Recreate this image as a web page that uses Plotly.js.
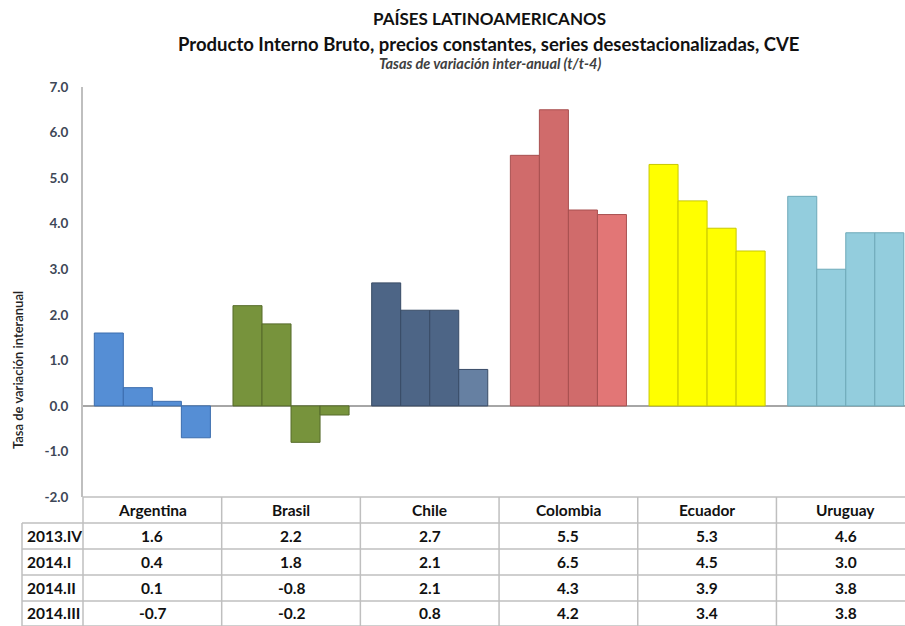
<!DOCTYPE html>
<html>
<head>
<meta charset="utf-8">
<script src="https://cdn.plot.ly/plotly-3.0.1.min.js"></script>
<style>html,body{margin:0;padding:0;background:#fff;}#chart{width:905px;height:626px;}</style>
</head>
<body>
<div id="chart"></div>
<script>
// ---- data ----
const countries = ['Argentina', 'Brasil', 'Chile', 'Colombia', 'Ecuador', 'Uruguay'];
const periods = ['2013.IV', '2014.I', '2014.II', '2014.III'];
const v2013IV  = [1.6, 2.2, 2.7, 5.5, 5.3, 4.6];
const v2014I   = [0.4, 1.8, 2.1, 6.5, 4.5, 3.0];
const v2014II  = [0.1, -0.8, 2.1, 4.3, 3.9, 3.8];
const v2014III = [-0.7, -0.2, 0.8, 4.2, 3.4, 3.8];
const yTicks = [-2, -1, 0, 1, 2, 3, 4, 5, 6, 7];

const titleMain = 'PAÍSES LATINOAMERICANOS';
const titleSub = 'Producto Interno Bruto, precios constantes, series desestacionalizadas, CVE';
const titleNote = 'Tasas de variación inter-anual (t/t-4)';
const yTitle = 'Tasa de variación interanual';

// ---- styles ----
const series = [v2013IV, v2014I, v2014II, v2014III];
const fillBase = ['#558ED5', '#77933C', '#4D6586', '#D06B6B', '#FFFF00', '#93CDDD'];
const fillLast = ['#558ED5', '#77933C', '#6680A2', '#E27676', '#FFFF00', '#93CDDD'];
const lineCol = ['#3B6DAE', '#566B2A', '#384B66', '#A85050', '#C8C800', '#6EA9B9'];
const FONT = 'Lato, "Open Sans", sans-serif';

const W = 905, H = 626;
const M = {l: 83, r: 0, t: 87, b: 129};
const plotH = H - M.t - M.b;
const plotW = W - M.l - M.r;
const py = px => (H - M.b - px) / plotH;   // pixel row -> paper y
const pxX = px => (px - M.l) / plotW;      // pixel col -> paper x

const traces = series.map((vals, i) => ({
  type: 'bar',
  name: periods[i],
  x: countries,
  y: vals,
  marker: {
    color: i === 3 ? fillLast : fillBase,
    line: {color: lineCol, width: 1}
  },
  hoverinfo: 'x+y+name',
  showlegend: false
}));

// table geometry (pixels)
const rowLines = [497, 523, 549, 575, 601, 626];
const rowCenters = [536, 562, 588, 613];
const headerCenter = 510;
const gridCol = '#BFBFBF';
const TS = 15.5;

const shapes = [];
rowLines.forEach((yy, k) => {
  shapes.push({type: 'line', xref: 'paper', yref: 'paper',
    x0: k === 0 ? 0 : pxX(22), x1: 1.02, y0: py(yy), y1: py(yy),
    line: {color: gridCol, width: 1.5}, layer: 'above'});
});
for (let j = 0; j <= countries.length; j++) {
  const xr = j === 0 ? {xref: 'paper', x: 0} : {xref: 'x', x: j - 0.5};
  shapes.push({type: 'line', xref: xr.xref, yref: 'paper',
    x0: xr.x, x1: xr.x, y0: py(497), y1: py(630),
    line: {color: gridCol, width: 1.5}});
}
shapes.push({type: 'line', xref: 'paper', yref: 'paper',
  x0: pxX(22), x1: pxX(22), y0: py(523), y1: py(630),
  line: {color: gridCol, width: 1.5}});

const annotations = [];
annotations.push({text: '<b>' + titleMain + '</b>', xref: 'paper', yref: 'paper', x: pxX(489), y: py(18),
  showarrow: false, font: {family: FONT, size: 17, color: '#111'}, xanchor: 'center', yanchor: 'middle'});
annotations.push({text: '<b>' + titleSub + '</b>', xref: 'paper', yref: 'paper', x: pxX(489), y: py(44),
  showarrow: false, font: {family: FONT, size: 18.5, color: '#111'}, xanchor: 'center', yanchor: 'middle'});
annotations.push({text: '<b><i>' + titleNote + '</i></b>', xref: 'paper', yref: 'paper', x: pxX(490), y: py(64),
  showarrow: false, font: {family: FONT, size: 14.5, color: '#404040'}, xanchor: 'center', yanchor: 'middle'});
annotations.push({text: yTitle, xref: 'paper', yref: 'paper', x: pxX(18), y: py(370), textangle: -90,
  showarrow: false, font: {family: FONT, size: 13, color: '#222', weight: 600}, xanchor: 'center', yanchor: 'middle'});
series.forEach((vals, i) => {
  annotations.push({text: '<b>' + periods[i] + '</b>', xref: 'paper', yref: 'paper', x: pxX(25), y: py(rowCenters[i]),
    showarrow: false, font: {family: FONT, size: TS, color: '#111'}, xanchor: 'left', yanchor: 'middle'});
  vals.forEach((v, j) => {
    annotations.push({text: '<b>' + v.toFixed(1) + '</b>', xref: 'x', yref: 'paper', x: j, y: py(rowCenters[i]),
      showarrow: false, font: {family: FONT, size: TS, color: '#111'}, xanchor: 'center', yanchor: 'middle'});
  });
});
countries.forEach((c, j) => {
  annotations.push({text: '<b>' + c + '</b>', xref: 'x', yref: 'paper', x: j, y: py(headerCenter),
    showarrow: false, font: {family: FONT, size: TS, color: '#111'}, xanchor: 'center', yanchor: 'middle'});
});

const layout = {
  width: W, height: H,
  margin: M,
  paper_bgcolor: '#fff', plot_bgcolor: '#fff',
  barmode: 'group', bargap: 0.163, bargroupgap: 0,
  font: {family: FONT},
  xaxis: {type: 'category', range: [-0.5, 5.427], showticklabels: false, showgrid: false,
    zeroline: false, showline: false, ticks: '', fixedrange: true},
  yaxis: {range: [-2, 7], tickvals: yTicks, ticktext: yTicks.map(v => v.toFixed(1)),
    showgrid: false, zeroline: true, zerolinecolor: '#A6A6A6', zerolinewidth: 1.5,
    showline: true, linecolor: '#BFBFBF', linewidth: 2, ticks: 'outside', ticklen: 10, tickcolor: 'rgba(0,0,0,0)',
    tickfont: {family: FONT, size: 13.5, color: '#3E4757', weight: 'bold'}, fixedrange: true},
  shapes: shapes,
  annotations: annotations
};

Plotly.newPlot('chart', traces, layout, {displayModeBar: false, staticPlot: true});
</script>
</body>
</html>
